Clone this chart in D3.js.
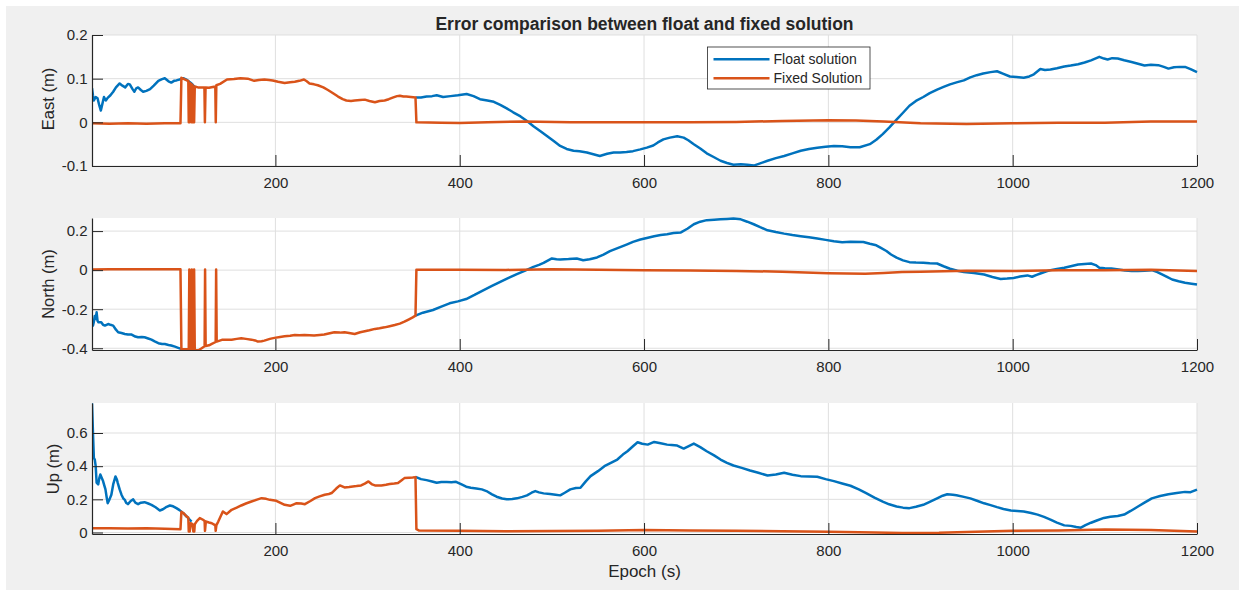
<!DOCTYPE html>
<html>
<head>
<meta charset="utf-8">
<script src="https://cdn.jsdelivr.net/npm/d3@7"></script>
<style>
  html, body { margin: 0; padding: 0; background: #ffffff; }
  svg { display: block; }
  text { font-family: "Liberation Sans", Arial, Helvetica, sans-serif; fill: #262626; }
</style>
</head>
<body>
<svg id="chart" width="1239" height="592"></svg>
<script>
// ---------------- DATA ----------------
const chartTitle = "Error comparison between float and fixed solution";
const xLabel = "Epoch (s)";
const panelLabels = ["East (m)", "North (m)", "Up (m)"];
const seriesNames = ["Float solution", "Fixed Solution"];
const xTickValues = [200, 400, 600, 800, 1000, 1200];
const xTickLabels = ["200", "400", "600", "800", "1000", "1200"];
const eastTickValues = [-0.1, 0, 0.1, 0.2];
const eastTickLabels = ["-0.1", "0", "0.1", "0.2"];
const northTickValues = [-0.4, -0.2, 0, 0.2];
const northTickLabels = ["-0.4", "-0.2", "0", "0.2"];
const upTickValues = [0, 0.2, 0.4, 0.6];
const upTickLabels = ["0", "0.2", "0.4", "0.6"];
const xDomain = [1, 1200];
const eastDomain = [-0.1, 0.2];
const northDomain = [-0.409, 0.267];
const upDomain = [-0.009, 0.781];

// [epoch, value]; null = hidden (float equals fixed there)
const eastFloat = [
  [1,0.078],[2,0.062],[3,0.050],[5,0.058],[7,0.055],[9,0.038],[10.6,0.027],[12,0.040],[14,0.058],[16,0.050],
  [18,0.056],[21,0.062],[24,0.070],[27,0.080],[31,0.089],[34,0.084],[37,0.080],[40,0.088],[42,0.087],[45,0.076],
  [47,0.070],[49,0.078],[51,0.080],[54,0.074],[56.5,0.070],[60,0.072],[64,0.076],[68,0.084],[73,0.095],[77,0.099],
  [80,0.101],[84,0.094],[87,0.091],[90,0.095],[92.6,0.096],[96,0.098],[100,0.101],[104,0.097],[109,0.089],[112,0.082],
  [113,null],
  [352,0.057],[358,0.057],[364,0.059],[370,0.060],[375,0.062],[382,0.058],[390,0.060],[398,0.062],[407.5,0.065],[415,0.060],
  [422,0.053],[430,0.050],[437,0.047],[444,0.040],[451,0.032],[458,0.023],[466,0.0135],[473,0.003],[480,-0.009],[488,-0.021],
  [495,-0.032],[502,-0.043],[509,-0.054],[516,-0.061],[523.5,-0.065],[530,-0.066],[538,-0.069],[545,-0.073],[552,-0.077],[560,-0.072],
  [567,-0.069],[574,-0.069],[581,-0.068],[588,-0.066],[596,-0.062],[603,-0.058],[610,-0.053],[615,-0.046],[621,-0.039],[628,-0.035],
  [636,-0.032],[643,-0.035],[648,-0.041],[654,-0.050],[661,-0.060],[668,-0.071],[676,-0.080],[683,-0.088],[690,-0.093],[697,-0.097],
  [705,-0.096],[712,-0.097],[719,-0.099],[726,-0.094],[734,-0.088],[743,-0.082],[752,-0.077],[761,-0.071],[770,-0.065],[779,-0.061],
  [788,-0.058],[797,-0.056],[806,-0.054],[815,-0.055],[824,-0.057],[834,-0.057],[845,-0.050],[852,-0.040],[859,-0.027],[866,-0.012],
  [874,0.006],[881,0.022],[888,0.038],[895,0.049],[903,0.058],[910,0.067],[918,0.075],[925,0.081],[932,0.087],[940,0.092],
  [947,0.096],[954,0.103],[961,0.108],[968,0.112],[976,0.115],[983,0.117],[990,0.111],[997,0.105],[1004,0.104],[1012,0.102],
  [1018,0.105],[1023,0.110],[1030,0.122],[1035,0.120],[1041,0.121],[1048,0.124],[1056,0.128],[1063,0.130],[1071,0.133],[1078,0.137],
  [1085,0.142],[1094,0.150],[1099,0.146],[1103,0.144],[1108,0.147],[1114,0.146],[1121,0.142],[1129,0.138],[1136,0.134],[1143,0.130],
  [1150,0.132],[1158,0.131],[1164,0.127],[1169,0.123],[1175,0.126],[1181,0.127],[1187,0.127],[1193,0.122],[1200,0.115]
];
const eastFixed = [
  [1,-0.002],[20,-0.003],[40,-0.002],[60,-0.003],[80,-0.002],[97,-0.002],[98,0.102],[101,0.099],[104,0.096],[105.5,0.095],
  [106,0],[106.8,0],[107.4,0.090],[108.4,0.088],[109,0],[110,0.086],[111,0],[111.8,0],[112.5,0.082],[116,0.080],
  [120,0.080],[123,0.080],[123.5,0],[124.2,0.080],[128,0.079],[132,0.081],[134.8,0.082],[135.3,0],[135.9,0.085],[140,0.088],
  [147.5,0.098],[155,0.099],[162,0.101],[170,0.100],[177,0.095],[182,0.097],[188,0.098],[193,0.097],[197,0.096],[203,0.093],
  [210,0.090],[216,0.092],[221,0.093],[226,0.095],[231,0.098],[234,0.094],[237,0.089],[242,0.087],[246,0.085],[252,0.080],
  [257,0.074],[263,0.066],[268,0.059],[273,0.053],[277,0.050],[282,0.049],[286,0.050],[292,0.051],[297,0.052],[302,0.049],
  [308,0.046],[313,0.049],[318.5,0.050],[323,0.053],[328,0.057],[332,0.060],[335,0.061],[339,0.059],[342,0.059],[347,0.058],
  [352,0.057],[353,0],[380,-0.001],[400,-0.0015],[430,0],[470,0.002],[520,0],[600,0],[650,0],[700,0.001],
  [750,0.003],[800,0.005],[830,0.004],[860,0.002],[900,-0.002],[950,-0.004],[1000,-0.002],[1050,-0.001],[1100,-0.001],[1150,0.002],
  [1200,0.002]
];
const northFloat = [
  [1,-0.250],[2,-0.284],[3,-0.265],[4,-0.235],[5,-0.250],[6,-0.216],[7,-0.260],[8,-0.267],[11,-0.267],[13,-0.280],
  [15,-0.284],[18.5,-0.276],[21,-0.280],[24,-0.284],[27,-0.305],[29.4,-0.318],[33,-0.322],[36.6,-0.327],[40,-0.330],[44,-0.330],
  [48,-0.340],[51,-0.344],[55,-0.342],[58,-0.344],[62,-0.350],[65.5,-0.356],[69,-0.365],[73,-0.374],[77,-0.378],[80,-0.378],
  [84,-0.383],[87,-0.386],[91,-0.392],[94.5,-0.398],[100,-0.407],[105,-0.408],[111,-0.410],
  [112,null],
  [352,-0.233],[360,-0.218],[371,-0.204],[380,-0.187],[389,-0.170],[398,-0.160],[407,-0.148],[416,-0.127],[426,-0.102],[435,-0.081],
  [444,-0.060],[453,-0.040],[462,-0.020],[471,-0.002],[480,0.017],[486,0.027],[491,0.037],[496,0.050],[500,0.060],[505,0.056],
  [509,0.055],[518,0.057],[527,0.060],[534,0.051],[541,0.056],[549,0.065],[556,0.080],[563,0.097],[572,0.114],[581,0.131],
  [588,0.145],[596,0.157],[603,0.165],[611,0.174],[618,0.180],[625,0.184],[632,0.190],[640,0.193],[647,0.212],[654,0.235],
  [661,0.248],[668,0.256],[676,0.258],[683,0.260],[690,0.262],[697,0.264],[705,0.260],[712,0.248],[719,0.235],[726,0.220],
  [734,0.204],[743,0.195],[752,0.187],[761,0.180],[770,0.174],[779,0.168],[788,0.162],[797,0.155],[806,0.148],[815,0.143],
  [824,0.145],[838,0.144],[845,0.135],[852,0.127],[857,0.114],[863,0.098],[868,0.080],[874,0.064],[881,0.050],[888,0.041],
  [895,0.039],[903,0.038],[910,0.035],[918,0.034],[925,0.020],[932,0.007],[940,-0.003],[947,-0.010],[958,-0.015],[969,-0.022],
  [978,-0.035],[987,-0.045],[994,-0.043],[1001,-0.040],[1008,-0.033],[1016,-0.027],[1021,-0.034],[1026,-0.024],[1030,-0.017],[1036,-0.007],
  [1041,0],[1048,0.006],[1056,0.012],[1063,0.020],[1071,0.029],[1078,0.032],[1085,0.034],[1090,0.026],[1094,0.012],[1100,0.010],
  [1107,0.009],[1115,0.003],[1122,-0.002],[1129,-0.004],[1136,-0.005],[1143,-0.003],[1151,0],[1157,-0.010],[1162,-0.022],[1168,-0.036],
  [1173,-0.048],[1180,-0.057],[1187,-0.065],[1194,-0.070],[1200,-0.074]
];
const northFixed = [
  [1,0.003],[20,0.004],[40,0.005],[60,0.004],[80,0.005],[97,0.004],[98,-0.405],[106,-0.405],[106.6,0.003],[107.4,-0.405],
  [108.8,-0.405],[109.3,0.003],[110,-0.405],[111.3,-0.405],[111.8,0.003],[112.5,-0.410],[116.5,-0.410],[120,-0.400],[123.2,-0.390],[123.7,0.003],
  [124.3,-0.388],[128,-0.385],[131,-0.378],[135.2,-0.368],[135.7,0.003],[136.3,-0.366],[142,-0.357],[147,-0.356],[152.5,-0.356],[158,-0.352],
  [163,-0.349],[168,-0.352],[174,-0.356],[178,-0.360],[181,-0.366],[185,-0.364],[188,-0.361],[194,-0.352],[199,-0.347],[205,-0.342],
  [210,-0.339],[216,-0.336],[221,-0.332],[226,-0.334],[231.5,-0.332],[237,-0.333],[242,-0.335],[248,-0.332],[253,-0.330],[259,-0.323],
  [264,-0.318],[270,-0.320],[275,-0.318],[280,-0.322],[286,-0.327],[292,-0.318],[297,-0.313],[302,-0.308],[308,-0.301],[313,-0.298],
  [318.5,-0.293],[324,-0.287],[329.5,-0.281],[335,-0.274],[340,-0.264],[345,-0.252],[349,-0.242],[352,-0.233],[353,0.002],[400,0.002],
  [450,0.001],[500,0.005],[550,0.002],[600,0],[650,-0.002],[700,-0.004],[750,-0.008],[800,-0.016],[840,-0.019],[860,-0.015],
  [880,-0.010],[900,-0.008],[950,-0.003],[1000,-0.005],[1050,-0.001],[1100,0],[1150,0.002],[1200,-0.005]
];
const upFloat = [
  [1,0.780],[2,0.610],[3,0.450],[4,0.440],[5,0.400],[6,0.300],[7.7,0.290],[9,0.330],[10,0.350],[11.5,0.330],
  [13,0.310],[14,0.290],[15.6,0.260],[17,0.210],[18,0.177],[20,0.200],[22,0.228],[24,0.290],[26.5,0.338],[28,0.320],
  [29,0.298],[31,0.260],[33,0.228],[35,0.205],[36.6,0.197],[38,0.180],[40,0.171],[43,0.190],[45.7,0.200],[48,0.180],
  [51,0.171],[54,0.180],[58,0.183],[62,0.175],[65.5,0.167],[70,0.152],[74.6,0.133],[78,0.140],[82,0.155],[85.5,0.163],
  [89,0.158],[92.6,0.147],[96,0.135],[100,0.117],[104,0.095],[109,0.066],
  [110,null],
  [352,0.336],[358,0.322],[364,0.316],[370,0.308],[375,0.300],[380,0.305],[386,0.304],[391,0.303],[396,0.306],[402,0.290],
  [407,0.276],[412,0.270],[418,0.266],[424,0.260],[429,0.250],[435,0.230],[440,0.216],[446,0.205],[451,0.200],[457,0.202],
  [462,0.206],[468,0.215],[473,0.224],[478,0.240],[482,0.250],[486,0.242],[491,0.236],[498,0.232],[504,0.228],[509,0.224],
  [514,0.240],[520,0.260],[526,0.268],[531,0.270],[537,0.310],[542,0.340],[550,0.370],[557,0.400],[564,0.420],[571,0.440],
  [577,0.470],[582,0.490],[588,0.520],[593,0.544],[598,0.535],[604,0.530],[611,0.546],[618,0.538],[625,0.530],[630,0.528],
  [636,0.524],[643,0.506],[648,0.520],[654,0.536],[661,0.515],[668,0.490],[676,0.465],[683,0.440],[690,0.420],[697,0.404],
  [706,0.390],[715,0.374],[724,0.360],[734,0.344],[743,0.350],[752,0.360],[761,0.348],[770,0.340],[779,0.338],[788,0.336],
  [797,0.322],[806,0.310],[815,0.296],[824,0.282],[833,0.260],[841,0.237],[850,0.210],[859,0.186],[866,0.170],[874,0.157],
  [881,0.150],[888,0.147],[895,0.155],[903,0.167],[910,0.185],[918,0.206],[924,0.222],[929,0.231],[935,0.228],[939,0.225],
  [947,0.215],[954,0.206],[962,0.190],[969,0.176],[976,0.165],[983,0.153],[990,0.142],[998,0.133],[1005,0.130],[1012,0.127],
  [1020,0.118],[1027,0.108],[1034,0.094],[1041,0.078],[1048,0.060],[1056,0.043],[1063,0.040],[1069,0.033],[1074,0.029],[1079,0.044],
  [1085,0.059],[1092,0.074],[1099,0.088],[1106,0.095],[1114,0.100],[1121,0.108],[1128,0.130],[1136,0.157],[1143,0.180],[1151,0.206],
  [1160,0.220],[1169,0.231],[1178,0.238],[1187,0.245],[1193,0.243],[1200,0.259]
];
const upFixed = [
  [1,0.026],[20,0.025],[40,0.024],[60,0.025],[80,0.022],[97,0.020],[98,0.125],[100,0.118],[103.5,0.097],[105.5,0.090],
  [106,0.006],[107,0.006],[108,0.056],[110,0.050],[111,0.006],[112,0.006],[112.5,0.050],[115,0.070],[118,0.087],[121.5,0.077],
  [123.2,0.070],[123.6,0.010],[124.5,0.066],[128,0.060],[131,0.056],[134,0.046],[134.8,0.045],[135.2,0.010],[136,0.045],[138,0.066],
  [140,0.090],[143,0.127],[147,0.111],[150,0.125],[152.5,0.137],[158,0.150],[163,0.163],[168,0.175],[174,0.187],[180,0.198],
  [185,0.207],[190,0.203],[194,0.197],[201,0.191],[205,0.180],[210,0.167],[216,0.161],[220,0.170],[223,0.177],[228,0.175],
  [232,0.171],[238,0.190],[243,0.207],[248,0.218],[253.5,0.228],[258,0.232],[261,0.238],[266,0.265],[270,0.284],[275,0.272],
  [280,0.275],[284,0.278],[288,0.280],[293,0.284],[297,0.295],[301,0.308],[305,0.290],[308,0.284],[312,0.284],[315,0.284],
  [320,0.288],[324,0.292],[329,0.295],[333,0.298],[337,0.315],[340,0.328],[345,0.330],[349,0.332],[352,0.334],[353,0.020],
  [356,0.012],[400,0.010],[450,0.008],[500,0.009],[550,0.010],[600,0.015],[650,0.012],[700,0.010],[750,0.008],[800,0.005],
  [850,0],[880,-0.003],[920,-0.002],[960,0.005],[1000,0.010],[1050,0.012],[1100,0.018],[1150,0.015],[1200,0.006]
];

// ---------------- LAYOUT ----------------
const colors = ["#0072BD", "#D95319"];
const lineWidth = 2.5;
const svg = d3.select("#chart");
svg.append("rect").attr("x", 6).attr("y", 6).attr("width", 1233).attr("height", 584).attr("fill", "#f0f0f0");

const left = 92, right = 1197;
const x = d3.scaleLinear().domain(xDomain).range([left, right]);

const panels = [
  { top: 35, bottom: 166, domain: eastDomain, ticks: eastTickValues, labels: eastTickLabels, float: eastFloat, fixed: eastFixed, label: panelLabels[0], labelX: 53.5, labelY: 99 },
  { top: 218, bottom: 350, domain: northDomain, ticks: northTickValues, labels: northTickLabels, float: northFloat, fixed: northFixed, label: panelLabels[1], labelX: 53.5, labelY: 284 },
  { top: 403, bottom: 534, domain: upDomain, ticks: upTickValues, labels: upTickLabels, float: upFloat, fixed: upFixed, label: panelLabels[2], labelX: 59, labelY: 469 }
];

panels.forEach((p, i) => {
  const y = d3.scaleLinear().domain(p.domain).range([p.bottom, p.top]);
  const g = svg.append("g");
  g.append("rect").attr("x", left).attr("y", p.top).attr("width", right - left).attr("height", p.bottom - p.top).attr("fill", "#ffffff");

  // grid
  g.append("g").selectAll("line").data(xTickValues).join("line")
    .attr("x1", d => x(d)).attr("x2", d => x(d)).attr("y1", p.top).attr("y2", p.bottom)
    .attr("stroke", "#dfdfdf").attr("stroke-width", 1);
  g.append("g").selectAll("line").data(p.ticks).join("line")
    .attr("x1", left).attr("x2", right).attr("y1", d => y(d)).attr("y2", d => y(d))
    .attr("stroke", "#dfdfdf").attr("stroke-width", 1);

  const clipId = "clip" + i;
  svg.append("clipPath").attr("id", clipId).append("rect")
    .attr("x", left).attr("y", p.top - 1).attr("width", right - left + 1).attr("height", p.bottom - p.top + 2);

  const line = d3.line().defined(d => d[1] !== null).x(d => x(d[0])).y(d => y(d[1]));
  const lg = g.append("g").attr("clip-path", `url(#${clipId})`);
  lg.append("path").datum(p.float).attr("d", line).attr("fill", "none")
    .attr("stroke", colors[0]).attr("stroke-width", lineWidth).attr("stroke-linejoin", "round");
  lg.append("path").datum(p.fixed).attr("d", line).attr("fill", "none")
    .attr("stroke", colors[1]).attr("stroke-width", lineWidth).attr("stroke-linejoin", "round");

  // axes
  const xAxis = d3.axisBottom(x).tickValues(xTickValues).tickFormat((d, k) => xTickLabels[k])
    .tickSizeInner(-11).tickSizeOuter(0).tickPadding(11.5);
  const ax = g.append("g").attr("transform", `translate(0,${p.bottom})`).call(xAxis);
  const yAxis = d3.axisLeft(y).tickValues(p.ticks).tickFormat((d, k) => p.labels[k])
    .tickSizeInner(-11).tickSizeOuter(0).tickPadding(4.5);
  const ay = g.append("g").attr("transform", `translate(${left},0)`).call(yAxis);
  [ax, ay].forEach(a => {
    a.select(".domain").attr("stroke", "#262626").attr("stroke-width", 1.2);
    a.selectAll(".tick line").attr("stroke", "#262626").attr("stroke-width", 1);
    a.selectAll(".tick text").attr("fill", "#262626").style("font-size", "15px")
      .style("font-family", '"Liberation Sans", Arial, sans-serif');
  });

  g.append("text").attr("transform", `translate(${p.labelX},${p.labelY}) rotate(-90)`)
    .attr("text-anchor", "middle").style("font-size", "16.5px").text(p.label);
});

// title
svg.append("text").attr("x", (left + right) / 2).attr("y", 30).attr("text-anchor", "middle")
  .style("font-size", "17.5px").style("font-weight", "bold").attr("fill", "#000").text(chartTitle);

// x label
svg.append("text").attr("x", (left + right) / 2).attr("y", 577).attr("text-anchor", "middle")
  .style("font-size", "17px").text(xLabel);

// legend
const leg = svg.append("g");
leg.append("rect").attr("x", 707.5).attr("y", 47).attr("width", 162.5).attr("height", 42)
  .attr("fill", "#ffffff").attr("stroke", "#262626").attr("stroke-width", 0.8);
seriesNames.forEach((name, k) => {
  const yy = 59.3 + k * 19;
  leg.append("line").attr("x1", 713.5).attr("x2", 769.5).attr("y1", yy).attr("y2", yy)
    .attr("stroke", colors[k]).attr("stroke-width", lineWidth);
  leg.append("text").attr("x", 773.5).attr("y", yy + 5).style("font-size", "14px").text(name);
});
</script>
</body>
</html>
